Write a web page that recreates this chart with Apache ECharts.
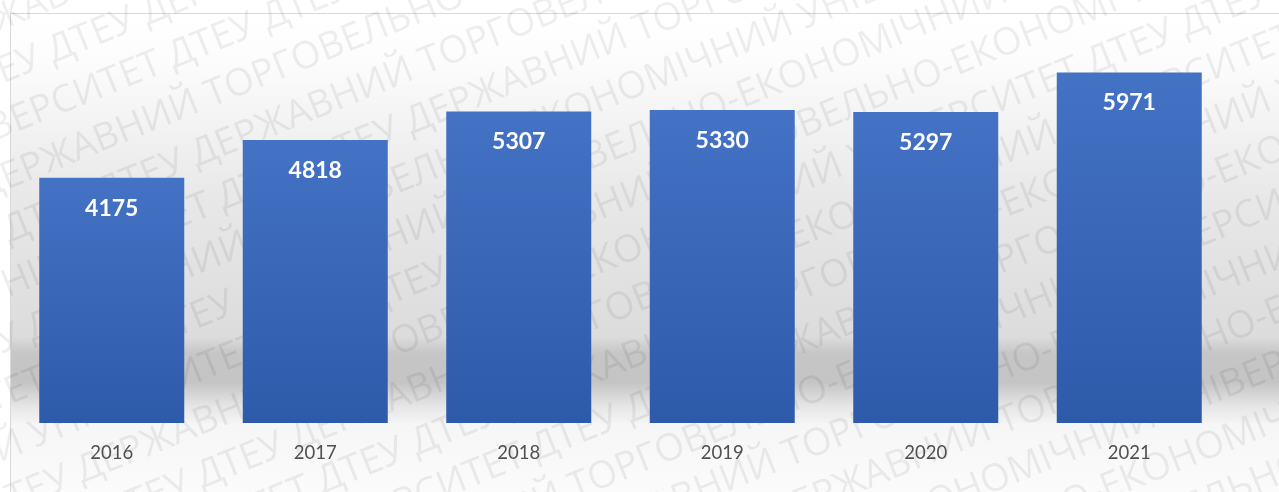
<!DOCTYPE html>
<html>
<head>
<meta charset="utf-8">
<script src="https://cdn.jsdelivr.net/npm/echarts@6/dist/echarts.min.js"></script>
<style>
  html, body { margin: 0; padding: 0; background: #ffffff; }
  #chart { width: 1279px; height: 492px; }
</style>
</head>
<body>
<div id="chart"></div>
<script>
const categories = ['2016', '2017', '2018', '2019', '2020', '2021'];
const values = [4175, 4818, 5307, 5330, 5297, 5971];
const watermarkUnit = 'ДТЕУ ДЕРЖАВНИЙ ТОРГОВЕЛЬНО-ЕКОНОМІЧНИЙ УНІВЕРСИТЕТ ДТЕУ ';

const chart = echarts.init(document.getElementById('chart'), null, { renderer: 'canvas' });

// watermark lines
const wmChildren = [];
for (let i = -10; i <= 10; i++) {
  wmChildren.push({
    type: 'text',
    silent: true,
    style: {
      text: watermarkUnit.repeat(4),
      x: -2000 + ((i * 211) % 640 + 640) % 640,
      y: i * 50,
      font: '38px "Open Sans"',
      fill: 'rgba(0,0,0,0.065)',
      verticalAlign: 'middle'
    }
  });
}

const option = {
  backgroundColor: '#ffffff',
  animation: false,
  grid: { left: 10, right: 48, top: 12, bottom: 69, containLabel: false },
  xAxis: {
    type: 'category',
    data: categories,
    axisLine: { show: false },
    axisTick: { show: false },
    axisLabel: {
      margin: 21,
      color: '#505050',
      fontSize: 18.5,
      fontFamily: 'Lato'
    }
  },
  yAxis: {
    type: 'value',
    min: 0,
    max: 7000,
    show: false,
    splitLine: { show: false }
  },
  graphic: [
    {
      type: 'rect',
      z: -10,
      silent: true,
      shape: { x: 10, y: 13, width: 1269, height: 410 },
      style: {
        fill: new echarts.graphic.LinearGradient(0, 0, 0, 1, [
          { offset: 0, color: '#ffffff' },
          { offset: 0.12, color: '#fcfcfc' },
          { offset: 0.45, color: '#e8e8e8' },
          { offset: 0.79, color: '#dcdcdc' },
          { offset: 0.83, color: '#c6c6c6' },
          { offset: 0.9, color: '#c4c4c4' },
          { offset: 0.96, color: '#e6e6e6' },
          { offset: 1, color: '#f4f4f4' }
        ])
      }
    },
    {
      type: 'rect',
      z: -10,
      silent: true,
      shape: { x: 10, y: 423, width: 1269, height: 69 },
      style: {
        fill: new echarts.graphic.LinearGradient(0, 0, 0, 1, [
          { offset: 0, color: '#f6f6f6' },
          { offset: 1, color: '#fbfbfb' }
        ])
      }
    },
    {
      type: 'line',
      z: -5,
      silent: true,
      shape: { x1: 10, y1: 13.5, x2: 1279, y2: 13.5 },
      style: { stroke: '#d9d9d9', lineWidth: 1 }
    },
    {
      type: 'line',
      z: -5,
      silent: true,
      shape: { x1: 10.5, y1: 13, x2: 10.5, y2: 492 },
      style: { stroke: '#d9d9d9', lineWidth: 1 }
    },
    {
      type: 'group',
      z: 100,
      silent: true,
      x: 640,
      y: 246,
      rotation: 22 * Math.PI / 180,
      children: wmChildren
    }
  ],
  series: [
    {
      type: 'bar',
      data: values,
      barWidth: 145,
      itemStyle: {
        color: new echarts.graphic.LinearGradient(0, 0, 0, 1, [
          { offset: 0, color: '#4472C4' },
          { offset: 1, color: '#2E5AAA' }
        ])
      },
      label: {
        show: true,
        position: 'insideTop',
        distance: 19,
        color: '#ffffff',
        fontWeight: 'bold',
        fontSize: 23,
        lineHeight: 23,
        fontFamily: 'Lato'
      }
    }
  ]
};

chart.setOption(option);
</script>
</body>
</html>
